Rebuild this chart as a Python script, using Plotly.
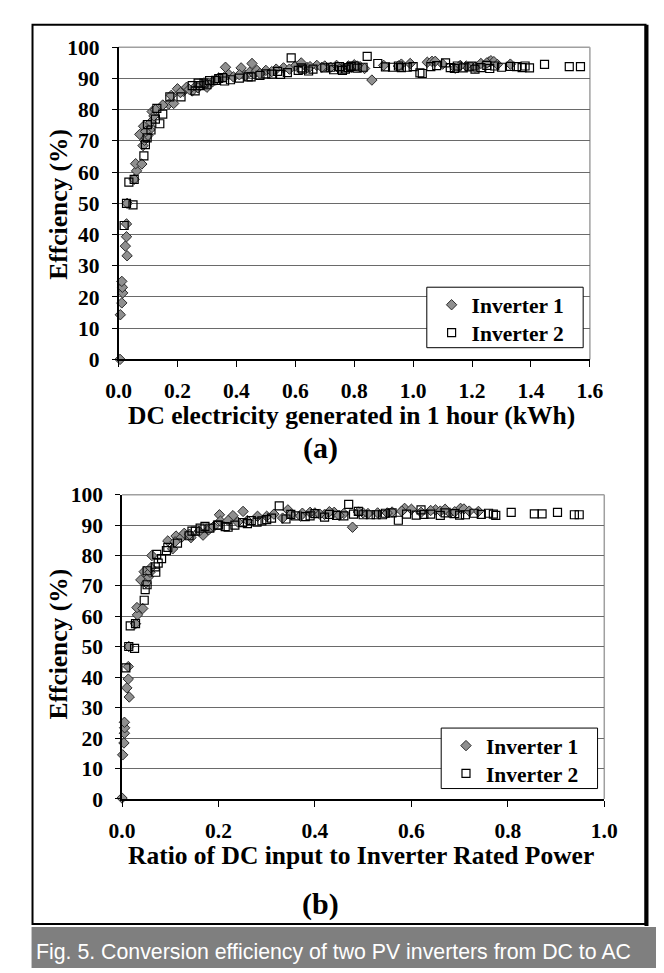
import plotly.graph_objects as go

# ---- Panel (a): DC energy generated in 1 hour (kWh) vs efficiency (%) ----
inv1_kwh = [0.005, 0.006, 0.011, 0.014, 0.013, 0.011, 0.029, 0.023, 0.027, 0.027, 0.029, 0.053,
            0.061, 0.058, 0.079, 0.083, 0.088, 0.072, 0.094, 0.100, 0.085, 0.106, 0.092, 0.110,
            0.114, 0.120, 0.125, 0.170, 0.187, 0.179, 0.200, 0.220, 0.231, 0.250, 0.262, 0.300,
            0.290, 0.320, 0.340, 0.363, 0.374, 0.390, 0.416, 0.430, 0.445, 0.453, 0.460, 0.470,
            0.500, 0.535, 0.560, 0.600, 0.620, 0.640, 0.673, 0.700, 0.720, 0.740, 0.760, 0.780,
            0.800, 0.820, 0.835, 0.860, 0.900, 0.960, 0.990, 1.048, 1.064, 1.075, 1.143, 1.180,
            1.210, 1.257, 1.264, 1.274, 1.286, 1.330,
            0.580, 0.650, 0.690, 0.750, 0.790, 0.810, 0.950, 1.100, 1.160, 1.230, 1.250, 0.330,
            0.360, 0.410, 0.480, 0.520, 0.150, 0.210, 0.240, 0.270]
inv1_eff_a = [0.0, 14.3, 18.1, 21.3, 23.1, 25.0, 33.2, 36.3, 39.3, 43.4, 50.0, 57.7,
              60.4, 62.7, 62.6, 68.5, 70.2, 72.1, 71.0, 71.8, 74.7, 73.6, 73.0, 76.0,
              79.4, 78.0, 80.0, 81.8, 82.0, 84.6, 86.7, 85.9, 87.2, 86.0, 87.5, 87.2,
              88.6, 89.0, 90.2, 93.6, 91.3, 90.5, 93.4, 91.0, 92.0, 94.8, 91.5, 92.6,
              92.6, 93.0, 93.4, 94.0, 95.0, 93.5, 94.2, 94.0, 93.6, 94.2, 93.5, 94.0,
              94.4, 93.8, 93.2, 89.5, 94.2, 94.6, 94.8, 95.2, 95.5, 95.5, 93.3, 94.0,
              93.6, 95.3, 95.7, 95.4, 94.5, 94.6,
              93.0, 93.8, 93.6, 93.0, 93.6, 94.0, 94.0, 94.6, 94.2, 94.8, 95.0, 89.5,
              90.5, 91.2, 91.6, 92.2, 81.5, 85.5, 86.5, 87.0]

inv2_kwh = [0.019, 0.027, 0.049, 0.035, 0.053, 0.086, 0.091, 0.097, 0.098, 0.110, 0.125, 0.130,
            0.140, 0.150, 0.174, 0.212, 0.250, 0.260, 0.277, 0.290, 0.309, 0.330, 0.353, 0.380,
            0.410, 0.440, 0.480, 0.520, 0.540, 0.573, 0.586, 0.610, 0.625, 0.645, 0.700, 0.730,
            0.750, 0.770, 0.790, 0.810, 0.844, 0.880, 0.906, 0.930, 0.960, 1.000, 1.023, 1.031,
            1.060, 1.110, 1.126, 1.150, 1.170, 1.200, 1.230, 1.277, 1.351, 1.370, 1.395, 1.446,
            1.530, 1.568,
            0.620, 0.660, 0.720, 0.760, 0.780, 0.800, 0.830, 0.950, 0.980, 1.080, 1.140, 1.190,
            1.210, 1.250, 1.260, 1.300, 1.330, 1.380, 0.340, 0.360, 0.450, 0.500, 0.550, 0.270,
            0.300]
inv2_eff_a = [42.9, 50.0, 49.5, 56.8, 57.7, 65.2, 68.8, 71.0, 75.2, 73.5, 77.0, 80.4,
              75.5, 78.6, 84.1, 84.1, 87.7, 86.0, 87.7, 88.5, 89.3, 89.4, 90.3, 89.6,
              90.1, 90.5, 91.0, 91.4, 92.3, 91.9, 96.6, 92.6, 93.0, 92.4, 93.4, 92.8,
              93.8, 93.0, 93.9, 93.3, 97.1, 94.8, 93.7, 93.6, 93.5, 93.8, 91.8, 91.6,
              93.8, 95.0, 93.5, 94.0, 93.4, 94.0, 93.5, 94.0, 93.8, 93.5, 93.4, 94.5,
              93.8, 93.8,
              93.4, 93.0, 93.6, 92.6, 93.5, 94.0, 93.6, 94.0, 93.6, 94.1, 93.2, 93.7,
              93.0, 94.2, 93.2, 93.6, 93.9, 94.0, 90.0, 89.2, 90.5, 91.5, 91.3, 88.5,
              88.0]

# ---- Panel (b): ratio of DC input to inverter rated power vs efficiency (%) ----
inv1_ratio = [0.000, 0.0014, 0.004, 0.005, 0.0055, 0.005, 0.015, 0.010, 0.013, 0.013, 0.014, 0.028,
              0.032, 0.031, 0.043, 0.039, 0.050, 0.055, 0.046, 0.058, 0.062, 0.060, 0.095, 0.105,
              0.112, 0.123, 0.129, 0.143, 0.168, 0.180, 0.202, 0.204, 0.230, 0.240, 0.251, 0.260,
              0.281, 0.300, 0.315, 0.333, 0.344, 0.374, 0.400, 0.420, 0.440, 0.460, 0.478, 0.500,
              0.530, 0.560, 0.586, 0.600, 0.650, 0.660, 0.680, 0.702, 0.709, 0.739,
              0.350, 0.370, 0.390, 0.410, 0.430, 0.450, 0.490, 0.510, 0.550, 0.580, 0.620, 0.640,
              0.670, 0.690, 0.720, 0.110, 0.140, 0.160, 0.190, 0.220]
inv1_eff_b = [0.3, 14.5, 18.4, 21.6, 23.4, 25.2, 33.5, 36.5, 39.4, 43.5, 50.1, 57.6,
              60.5, 62.9, 62.6, 72.0, 71.0, 73.0, 74.7, 74.5, 80.0, 76.0, 84.8, 82.2,
              86.4, 85.9, 87.3, 85.9, 86.7, 88.5, 93.4, 91.3, 93.1, 91.0, 94.5, 91.5,
              92.9, 92.9, 93.6, 92.3, 95.0, 93.9, 94.0, 93.5, 94.2, 93.8, 89.3, 94.0,
              94.0, 94.3, 95.5, 95.2, 95.0, 94.6, 94.0, 95.5, 95.3, 94.5,
              93.5, 93.0, 94.2, 93.6, 94.4, 93.2, 94.3, 93.8, 94.0, 94.6, 94.2, 94.8,
              95.2, 94.4, 94.6, 84.5, 87.0, 88.0, 89.5, 91.5]

inv2_ratio = [0.008, 0.014, 0.026, 0.017, 0.028, 0.046, 0.048, 0.052, 0.052, 0.069, 0.072, 0.070,
              0.075, 0.082, 0.092, 0.095, 0.115, 0.139, 0.145, 0.152, 0.162, 0.172, 0.182, 0.198,
              0.214, 0.234, 0.250, 0.268, 0.290, 0.310, 0.326, 0.340, 0.360, 0.390, 0.420, 0.445,
              0.470, 0.490, 0.500, 0.515, 0.527, 0.546, 0.573, 0.620, 0.626, 0.660, 0.690, 0.712,
              0.745, 0.760, 0.775, 0.807, 0.855, 0.871, 0.903, 0.938, 0.948,
              0.350, 0.380, 0.400, 0.430, 0.460, 0.480, 0.540, 0.560, 0.590, 0.610, 0.640, 0.670,
              0.700, 0.730, 0.770, 0.200, 0.220, 0.260, 0.280, 0.300]
inv2_eff_b = [43.1, 50.1, 49.5, 56.9, 57.6, 65.3, 68.8, 70.4, 75.0, 76.3, 80.4, 74.5,
              77.5, 79.0, 81.6, 82.7, 84.1, 86.5, 88.0, 88.0, 89.0, 89.6, 89.0, 90.0,
              89.5, 90.0, 90.8, 91.5, 91.4, 92.3, 96.3, 92.0, 93.0, 93.0, 92.6, 93.2,
              96.8, 94.5, 93.4, 93.4, 93.4, 93.9, 91.6, 95.0, 93.5, 93.2, 93.8, 93.4,
              93.5, 93.9, 93.2, 94.2, 93.7, 93.7, 94.2, 93.4, 93.4,
              93.5, 92.8, 93.8, 93.5, 93.0, 93.6, 93.4, 94.0, 93.6, 93.3, 93.6, 94.0,
              93.3, 93.9, 93.6, 90.0, 89.3, 90.5, 91.0, 91.8]

series_names = ["<b>Inverter 1</b>", "<b>Inverter 2</b>"]
y_ticks = [0, 10, 20, 30, 40, 50, 60, 70, 80, 90, 100]
x_ticks_a = [0.0, 0.2, 0.4, 0.6, 0.8, 1.0, 1.2, 1.4, 1.6]
x_ticks_b = [0.0, 0.2, 0.4, 0.6, 0.8, 1.0]

W, H = 664, 973
SERIF = "Liberation Serif, Times New Roman, serif"

def px(x):
    return x / W

def py(y):
    return 1 - y / H

diamond = dict(symbol="diamond", size=8, color="#8f8f8f", line=dict(color="#2a2a2a", width=1))
square = dict(symbol="square-open", size=8, color="#000000", line=dict(color="#000000", width=1.2))

fig = go.Figure()
fig.add_trace(go.Scatter(x=inv1_kwh, y=inv1_eff_a, mode="markers", marker=diamond,
                         name=series_names[0], xaxis="x", yaxis="y", legend="legend", cliponaxis=False))
fig.add_trace(go.Scatter(x=inv2_kwh, y=inv2_eff_a, mode="markers", marker=square,
                         name=series_names[1], xaxis="x", yaxis="y", legend="legend2", cliponaxis=False))
fig.add_trace(go.Scatter(x=inv1_ratio, y=inv1_eff_b, mode="markers", marker=diamond,
                         name=series_names[0], xaxis="x2", yaxis="y2", legend="legend3", cliponaxis=False))
fig.add_trace(go.Scatter(x=inv2_ratio, y=inv2_eff_b, mode="markers", marker=square,
                         name=series_names[1], xaxis="x2", yaxis="y2", legend="legend4", cliponaxis=False))

tickfont = dict(family=SERIF, size=21.5, color="black", weight="bold")
grid = dict(showgrid=True, gridcolor="#6a6a6a", gridwidth=1.3)

xa = dict(range=[0, 1.6], tickvals=x_ticks_a, tickformat=".1f", ticks="outside", ticklen=6,
          tickcolor="black", showline=True, linecolor="black", linewidth=1.5, showgrid=False,
          zeroline=False, tickfont=tickfont, ticklabelstandoff=5, domain=[px(101.7), px(593)])
ya = dict(range=[0, 100], tickvals=y_ticks, ticks="outside", ticklen=5, tickcolor="black",
          showline=True, linecolor="black", linewidth=1.5, zeroline=False, tickfont=tickfont,
          ticklabelstandoff=8, domain=[py(349), py(29)], **grid)
xb = dict(xa, range=[0, 1.0], tickvals=x_ticks_b, domain=[px(105.3), px(608)], anchor="y2")
yb = dict(ya, domain=[py(799.7), py(487.7)], anchor="x2")

legend_common = dict(bgcolor="rgba(0,0,0,0)", borderwidth=0,
                     font=dict(family=SERIF, size=21.5, color="black"),
                     xanchor="left", yanchor="middle", itemwidth=30, tracegroupgap=0)

fig.update_layout(
    width=W, height=H, margin=dict(l=0, r=0, t=0, b=0),
    paper_bgcolor="white", plot_bgcolor="white", showlegend=True,
    xaxis=dict(xa, anchor="y"), yaxis=dict(ya, anchor="x"),
    xaxis2=xb, yaxis2=yb,
    legend=dict(legend_common, x=px(428), y=py(293)),
    legend2=dict(legend_common, x=px(428), y=py(321.5)),
    legend3=dict(legend_common, x=px(443), y=py(745)),
    legend4=dict(legend_common, x=px(443), y=py(773.5)),
)

shapes = []
# gray plot-area borders (top & right)
for xr, yr in (("x domain", "y domain"), ("x2 domain", "y2 domain")):
    shapes.append(dict(type="line", xref=xr, yref=yr, x0=0, x1=1, y0=1, y1=1,
                       line=dict(color="#a0a0a0", width=1.5), layer="below"))
    shapes.append(dict(type="line", xref=xr, yref=yr, x0=1, x1=1, y0=0, y1=1,
                       line=dict(color="#a0a0a0", width=1.5), layer="below"))
# legend boxes
shapes.append(dict(type="rect", xref="paper", yref="paper", x0=px(423), x1=px(586), y0=py(337), y1=py(275),
                   fillcolor="white", line=dict(color="black", width=1)))
shapes.append(dict(type="rect", xref="paper", yref="paper", x0=px(438), x1=px(601), y0=py(789), y1=py(727),
                   fillcolor="white", line=dict(color="black", width=1)))
# outer frame
shapes.append(dict(type="rect", xref="paper", yref="paper", x0=px(12), x1=px(651), y0=py(928), y1=py(6),
                   line=dict(color="black", width=2)))
shapes.append(dict(type="line", xref="paper", yref="paper", x0=px(652), x1=px(652), y0=py(930), y1=py(6),
                   line=dict(color="black", width=4)))
# caption band
shapes.append(dict(type="rect", xref="paper", yref="paper", x0=px(11), x1=px(664), y0=0, y1=py(931),
                   fillcolor="#7f7f7f", line=dict(width=0)))
fig.update_layout(shapes=shapes)

title_font = dict(family=SERIF, size=25.5, color="black", weight="bold")
label_font = dict(family=SERIF, size=30, color="black", weight="bold")
annotations = [
    dict(text="Effciency (%)", x=px(39), y=py(190), textangle=-90, font=title_font),
    dict(text="DC electricity generated in 1 hour (kWh)", x=px(344), y=py(407), font=title_font),
    dict(text="(a)", x=px(312), y=py(440), font=label_font),
    dict(text="Effciency (%)", x=px(39), y=py(641), textangle=-90, font=title_font),
    dict(text="Ratio of DC input to Inverter Rated Power", x=px(354), y=py(858), font=title_font),
    dict(text="(b)", x=px(312), y=py(907), font=label_font),
    dict(text="Fig. 5. Conversion efficiency of two PV inverters from DC to AC", x=px(326), y=py(957),
         font=dict(family="Liberation Sans, Arial, sans-serif", size=21.3, color="white")),
]
for a in annotations:
    a.update(xref="paper", yref="paper", showarrow=False, xanchor="center", yanchor="middle")
fig.update_layout(annotations=annotations)

fig.write_html("out.html")
